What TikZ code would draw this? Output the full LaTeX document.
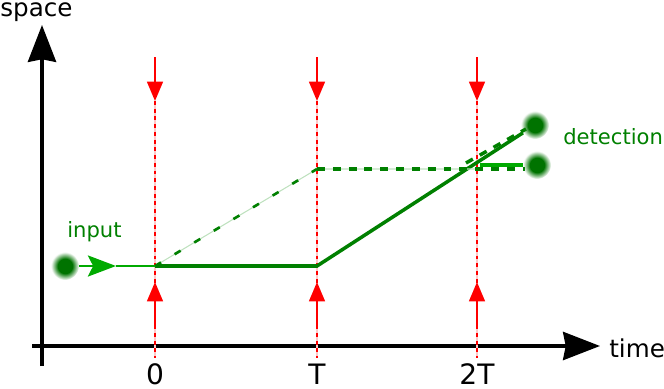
\documentclass[tikz,border=0pt]{standalone}
\usepackage{fontspec}
\setmainfont{DejaVu Sans}
\usetikzlibrary{arrows.meta}

\definecolor{beamgreen}{RGB}{0,128,0}
\definecolor{blobgreen}{RGB}{0,115,0}
\definecolor{inputgreen}{RGB}{0,170,0}
\definecolor{faintgreen}{RGB}{190,225,190}
\definecolor{pulsered}{RGB}{255,0,0}
\definecolor{faintred}{RGB}{255,200,200}

\pgfdeclareradialshading{blobshade}{\pgfpoint{0bp}{0bp}}{%
  color(0bp)=(blobgreen); color(13bp)=(blobgreen); color(25bp)=(white); color(50bp)=(white)}

\tikzset{
  axis/.style={line width=2pt, -{Stealth[length=21pt, width=16pt, inset=1.5pt]}},
  pulse/.style={pulsered, line width=1.1pt, -{Triangle[length=11pt, width=9pt]}},
  guidefaint/.style={faintred, line width=0.6pt},
  guidedash/.style={pulsered, line width=1.6pt, dash pattern=on 2.2pt off 2.2pt},
  beam/.style={beamgreen, line width=2pt},
  inbeam/.style={inputgreen, line width=1.3pt},
  faintbeam/.style={faintgreen, line width=0.6pt},
  dashbeam/.style={beamgreen, line width=2pt, dash pattern=on 4.5pt off 4.5pt},
  blob/.style={circle, minimum size=0.56cm, inner sep=0pt, shade, shading=blobshade},
  label/.style={beamgreen, font=\fontsize{12}{14}\selectfont, inner sep=0pt},
  ticklabel/.style={anchor=base, inner sep=0pt, font=\fontsize{16}{18}\selectfont}
}

\begin{document}
\begin{tikzpicture}[x=0.02cm, y=-0.02cm, font=\fontsize{14}{16}\selectfont]
  \useasboundingbox (0,0) rectangle (664,389);

  % Axes
  \coordinate (xstart) at (32,346);
  \coordinate (xend) at (600,346);
  \coordinate (ystart) at (42,366);
  \coordinate (yend) at (42,25);
  \draw[axis] (xstart) -- (xend);
  \draw[axis] (ystart) -- (yend);
  \node[anchor=base west, inner sep=0pt] (spacelabel) at (0,16.5) {space};
  \node[anchor=base west, inner sep=0pt] (timelabel) at (609,357) {time};

  % Pulses
  \foreach \x/\lab [count=\i] in {155/0, 317/T, 477/2T} {
    \coordinate (top\i) at (\x,57);
    \coordinate (tiptop\i) at (\x,101);
    \coordinate (bot\i) at (\x,325);
    \coordinate (tipbot\i) at (\x,282);
    \coordinate (end\i) at (\x,358);
    \draw[guidefaint] (tiptop\i) -- (end\i);
    \draw[guidedash] (tiptop\i) -- (end\i);
    \draw[pulse] (top\i) -- (tiptop\i);
    \draw[pulse] (bot\i) -- (tipbot\i);
    \node[ticklabel] (tick\i) at (\x,384.5) {\lab};
  }

  % Blobs
  \node[blob] (inblob) at (65,266) {};
  \node[blob] (upblob) at (535,125) {};
  \node[blob] (lowblob) at (537,165) {};
  \node[label, anchor=base west] (inputlabel) at (67,237) {input};
  \node[label, anchor=base west] (detlabel) at (563,144) {detection};

  % Beams
  \coordinate (inhead) at (116,266);
  \coordinate (s0) at (155,266);
  \coordinate (s1) at (317,266);
  \coordinate (d1) at (317,169);
  \coordinate (d2) at (477,169);
  \coordinate (c2) at (480,165);
  \coordinate (dsplit) at (466,163);
  \coordinate (upin) at (526,129);
  \coordinate (lowin) at (525,169);
  \draw[inbeam, -{Stealth[length=16pt, width=12pt, inset=3pt]}] (inblob) -- (inhead);
  \draw[inbeam] (inhead) -- (s0);
  \draw[beam] (s0) -- (s1) -- (upblob);
  \draw[beam, inputgreen] (c2) -- (lowblob);
  \draw[faintbeam] (s0) -- (d1) -- (d2);
  \draw[dashbeam, line width=1.5pt, dash pattern=on 4pt off 9pt] (s0) -- (d1);
  \draw[dashbeam] (d1) -- (lowin);
  \draw[dashbeam] (dsplit) -- (upin);
\end{tikzpicture}
\end{document}
